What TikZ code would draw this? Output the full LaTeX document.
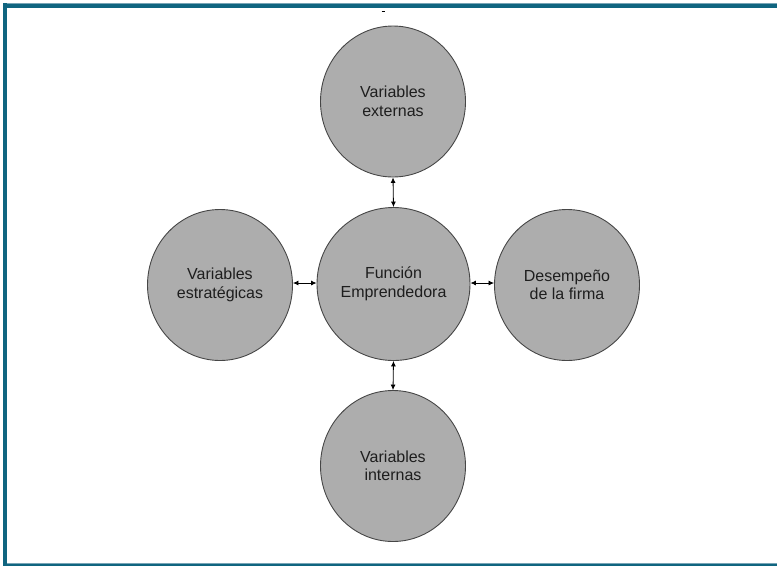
\documentclass[tikz,border=0pt]{standalone}
\usepackage{fontspec}
\setmainfont{Liberation Sans}
\usetikzlibrary{arrows.meta,shapes.geometric}
\definecolor{frameteal}{RGB}{16,101,128}
\definecolor{framelight}{RGB}{120,165,182}
\definecolor{bubblefill}{RGB}{173,173,173}
\definecolor{bubbleedge}{RGB}{70,70,70}
\definecolor{bubbletext}{RGB}{30,30,30}
\begin{document}
\begin{tikzpicture}[x=1pt,y=-1pt,
  bubble/.style={ellipse, draw=bubbleedge, line width=0.9pt, fill=bubblefill,
    minimum width=145pt, minimum height=151pt, inner sep=0pt,
    align=center, text=bubbletext, font=\fontsize{16}{18.5}\selectfont},
  hub/.style={bubble, minimum width=153pt, minimum height=153pt},
  link/.style={line width=0.8pt, {Latex[length=5.5pt,width=5pt]}-{Latex[length=5.5pt,width=5pt]}}]
\useasboundingbox (0,0) rectangle (777,566);
% frame
\fill[framelight] (3,2.5) rectangle (777,4);
\fill[frameteal] (3,4) rectangle (777,7.8);
\fill[frameteal] (3,3) rectangle (7,566);
\fill[framelight] (7,562.8) rectangle (777,564);
\fill[frameteal] (3,564) rectangle (777,566);
% stray mark above the top bubble
\draw[line width=0.9pt, black] (381.5,11) -- (384.5,11);
% bubbles
\node[hub] (fe) at (393.5,284) {Función\\Emprendedora};
\node[bubble] (ve) at (393,101.5) {Variables\\externas};
\node[bubble] (vi) at (393,466) {Variables\\internas};
\node[bubble] (vs) at (220,285) {Variables\\estratégicas};
\node[bubble] (df) at (567,285) {Desempeño\\de la firma};
% connectors
\draw[link] (ve.south) -- (fe.north);
\draw[link] (fe.south) -- (vi.north);
\draw[link] (vs.east |- 0,283) -- (fe.west |- 0,283);
\draw[link] (fe.east |- 0,283) -- (df.west |- 0,283);
\end{tikzpicture}
\end{document}
